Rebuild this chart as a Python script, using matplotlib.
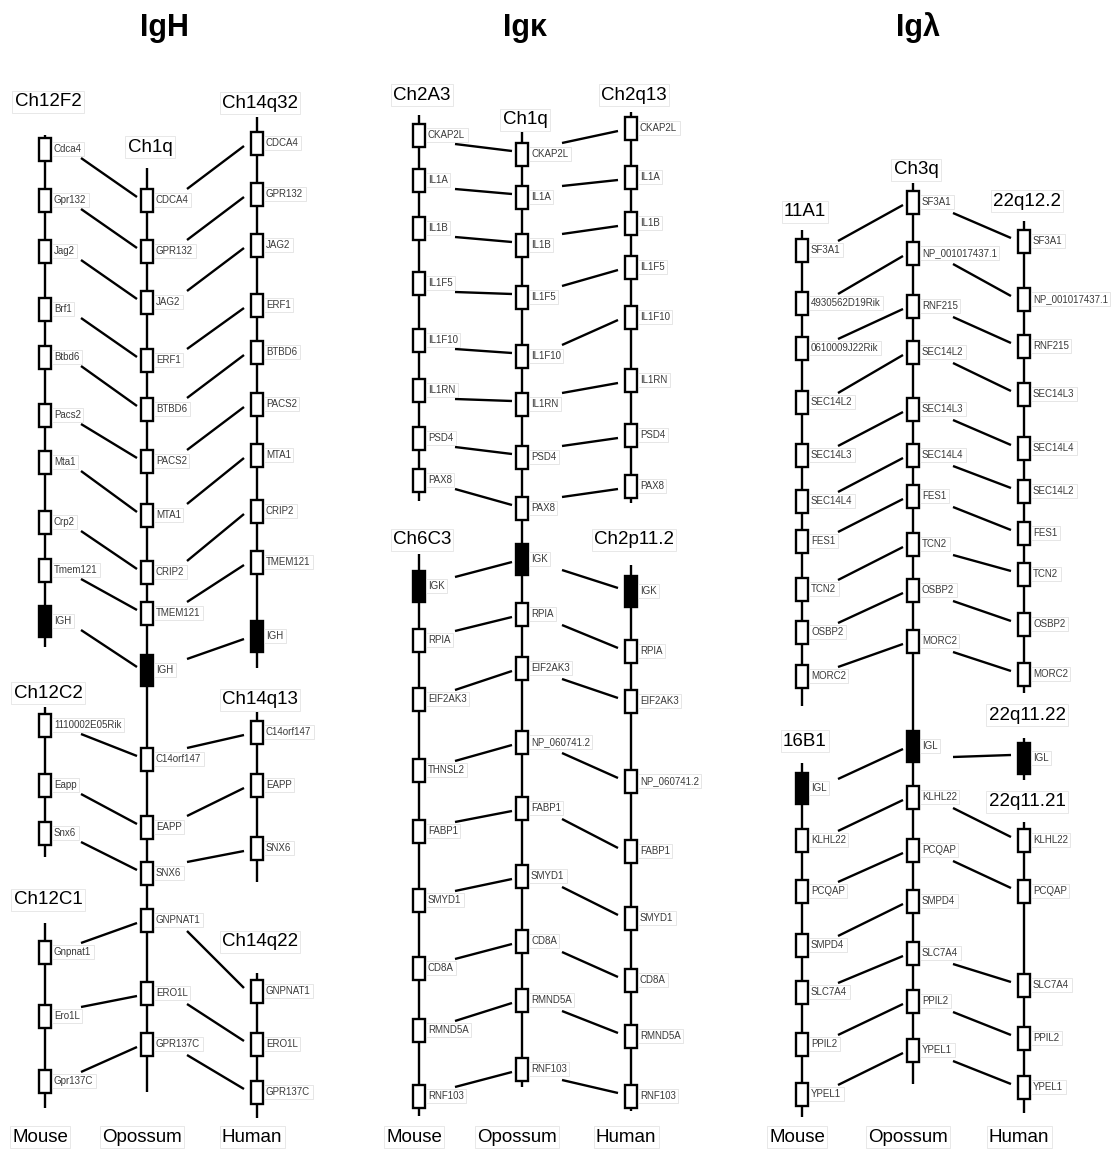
import matplotlib
matplotlib.use("Agg")
import matplotlib.pyplot as plt
from matplotlib.patches import Rectangle

# ---- data: gene order + positions (pixel rows) ----
panels = ["IgH", "Ig\u03ba", "Ig\u03bb"]
col_x = {"IgH": (45, 147, 257), "Ig\u03ba": (419, 522, 631), "Ig\u03bb": (802, 913, 1024)}
title_x = {"IgH": 164, "Ig\u03ba": 525, "Ig\u03bb": 918}
species = ["Mouse", "Opossum", "Human"]

# opossum chromosome, one per panel
igh_opo_genes = ["CDCA4", "GPR132", "JAG2", "ERF1", "BTBD6", "PACS2", "MTA1", "CRIP2",
                 "TMEM121", "IGH", "C14orf147", "EAPP", "SNX6", "GNPNAT1", "ERO1L", "GPR137C"]
igh_opo_y = [200, 251, 302, 360, 409, 461, 515, 572, 613, 670, 759, 827, 873, 920, 993, 1044]

igk_opo_genes = ["CKAP2L", "IL1A", "IL1B", "IL1F5", "IL1F10", "IL1RN", "PSD4", "PAX8", "IGK",
                 "RPIA", "EIF2AK3", "NP_060741.2", "FABP1", "SMYD1", "CD8A", "RMND5A", "RNF103"]
igk_opo_y = [154, 197, 245, 297, 356, 404, 457, 508, 559, 614, 668, 742, 808, 876, 941, 1000, 1069]

igl_opo_genes = ["SF3A1", "NP_001017437.1", "RNF215", "SEC14L2", "SEC14L3", "SEC14L4", "FES1",
                 "TCN2", "OSBP2", "MORC2", "IGL", "KLHL22", "PCQAP", "SMPD4", "SLC7A4", "PPIL2", "YPEL1"]
igl_opo_y = [202, 253, 306, 352, 409, 455, 496, 544, 590, 641, 746, 797, 850, 901, 953, 1001, 1050]

opossum = {
    "IgH": ("Ch1q", 147, (168, 1092), igh_opo_genes, igh_opo_y),
    "Ig\u03ba": ("Ch1q", 120, (132, 1087), igk_opo_genes, igk_opo_y),
    "Ig\u03bb": ("Ch3q", 170, (183, 1084), igl_opo_genes, igl_opo_y),
}

# mouse / human segments: (panel, column, name, name_y, span, genes, ys, opossum partner index)
segments = [
    ("IgH", 0, "Ch12F2", 102, (135, 647),
     ["Cdca4", "Gpr132", "Jag2", "Brf1", "Btbd6", "Pacs2", "Mta1", "Crp2", "Tmem121", "IGH"],
     [149, 200, 251, 309, 357, 415, 462, 522, 570, 621], list(range(10))),
    ("IgH", 0, "Ch12C2", 693, (707, 857), ["1110002E05Rik", "Eapp", "Snx6"],
     [725, 785, 833], [10, 11, 12]),
    ("IgH", 0, "Ch12C1", 900, (923, 1108), ["Gnpnat1", "Ero1L", "Gpr137C"],
     [952, 1016, 1081], [13, 14, 15]),
    ("IgH", 2, "Ch14q32", 103, (117, 668),
     ["CDCA4", "GPR132", "JAG2", "ERF1", "BTBD6", "PACS2", "MTA1", "CRIP2", "TMEM121", "IGH"],
     [143, 194, 245, 305, 352, 404, 455, 511, 562, 636], list(range(10))),
    ("IgH", 2, "Ch14q13", 700, (712, 882), ["C14orf147", "EAPP", "SNX6"],
     [732, 785, 848], [10, 11, 12]),
    ("IgH", 2, "Ch14q22", 942, (973, 1118), ["GNPNAT1", "ERO1L", "GPR137C"],
     [991, 1044, 1092], [13, 14, 15]),

    ("Ig\u03ba", 0, "Ch2A3", 95, (115, 501),
     ["CKAP2L", "IL1A", "IL1B", "IL1F5", "IL1F10", "IL1RN", "PSD4", "PAX8"],
     [135, 180, 228, 283, 340, 390, 438, 480], list(range(8))),
    ("Ig\u03ba", 0, "Ch6C3", 540, (554, 1116),
     ["IGK", "RPIA", "EIF2AK3", "THNSL2", "FABP1", "SMYD1", "CD8A", "RMND5A", "RNF103"],
     [586, 640, 699, 770, 831, 900, 968, 1030, 1096], list(range(8, 17))),
    ("Ig\u03ba", 2, "Ch2q13", 95, (112, 503),
     ["CKAP2L", "IL1A", "IL1B", "IL1F5", "IL1F10", "IL1RN", "PSD4", "PAX8"],
     [128, 177, 223, 267, 317, 380, 435, 486], list(range(8))),
    ("Ig\u03ba", 2, "Ch2p11.2", 540, (565, 1111),
     ["IGK", "RPIA", "EIF2AK3", "NP_060741.2", "FABP1", "SMYD1", "CD8A", "RMND5A", "RNF103"],
     [591, 651, 701, 781, 851, 918, 980, 1036, 1096], list(range(8, 17))),

    ("Ig\u03bb", 0, "11A1", 212, (230, 706),
     ["SF3A1", "4930562D19Rik", "0610009J22Rik", "SEC14L2", "SEC14L3", "SEC14L4", "FES1",
      "TCN2", "OSBP2", "MORC2"],
     [250, 303, 348, 402, 455, 501, 541, 589, 632, 676], list(range(10))),
    ("Ig\u03bb", 0, "16B1", 741, (763, 1117),
     ["IGL", "KLHL22", "PCQAP", "SMPD4", "SLC7A4", "PPIL2", "YPEL1"],
     [788, 840, 891, 945, 992, 1044, 1094], list(range(10, 17))),
    ("Ig\u03bb", 2, "22q12.2", 201, (221, 693),
     ["SF3A1", "NP_001017437.1", "RNF215", "SEC14L3", "SEC14L4", "SEC14L2", "FES1",
      "TCN2", "OSBP2", "MORC2"],
     [241, 299, 346, 394, 448, 491, 533, 574, 624, 674], list(range(10))),
    ("Ig\u03bb", 2, "22q11.22", 715, (738, 780), ["IGL"], [758], [10]),
    ("Ig\u03bb", 2, "22q11.21", 802, (822, 1113),
     ["KLHL22", "PCQAP", "SLC7A4", "PPIL2", "YPEL1"],
     [840, 891, 985, 1038, 1087], [11, 12, 14, 15, 16]),
]

# ---- drawing ----
gene_font = ["Liberation Sans Narrow", "Liberation Sans", "DejaVu Sans"]
big_font = ["Liberation Sans", "DejaVu Sans"]

fig = plt.figure(figsize=(11.14, 11.5), dpi=100)
ax = fig.add_axes([0, 0, 1, 1])
ax.set_xlim(0, 1114)
ax.set_ylim(1150, 0)
ax.axis("off")

LW = 1.7


def draw_chrom(x, name, name_y, span, genes, ys):
    ax.plot([x, x], span, color="black", lw=LW, solid_capstyle="butt", zorder=1)
    ax.text(x + 3, name_y, name, ha="center", va="center", fontsize=13.5, family=big_font,
            bbox=dict(boxstyle="square,pad=0.12", fc="white", ec="#e4e4e4", lw=0.6))
    for g, y in zip(genes, ys):
        black = g.upper() in ("IGH", "IGK", "IGL")
        h = 31 if black else 23
        ax.add_patch(Rectangle((x - 6, y - h / 2), 12, h, fc="black" if black else "white",
                               ec="black", lw=LW, zorder=2))
        ax.text(x + 9, y, g, ha="left", va="center", fontsize=7, color="#3a3a3a",
                family=gene_font, zorder=3,
                bbox=dict(boxstyle="square,pad=0.25", fc="none", ec="#dcdcdc", lw=0.5))


for p in panels:
    xm, xo, xh = col_x[p]
    ax.text(title_x[p], 28, p, ha="center", va="center", fontsize=22,
            fontweight="bold", family=big_font)
    for sp, x in zip(species, (xm, xo, xh)):
        ax.text(x - 5, 1137, sp, ha="center", va="center", fontsize=13.5, family=big_font,
                bbox=dict(boxstyle="square,pad=0.12", fc="white", ec="#e4e4e4", lw=0.6))
    name, name_y, span, genes, ys = opossum[p]
    draw_chrom(xo, name, name_y, span, genes, ys)

for p, col, name, name_y, span, genes, ys, partners in segments:
    xm, xo, xh = col_x[p]
    x = xm if col == 0 else xh
    draw_chrom(x, name, name_y, span, genes, ys)
    oy_all = opossum[p][4]
    for y, k in zip(ys, partners):
        oy = oy_all[k]
        if col == 0:
            s = 1 if oy >= y else -1
            xs = [x + 36, xo - 10]
            yy = [y + 9 * s, oy - 3 * s]
        else:
            s = 1 if y >= oy else -1
            xs = [xo + 40, x - 13]
            yy = [oy + 11 * s, y - 3 * s]
        ax.plot(xs, yy, color="black", lw=LW, solid_capstyle="butt", zorder=1)

fig.savefig("out.png", dpi=100, facecolor="white")
